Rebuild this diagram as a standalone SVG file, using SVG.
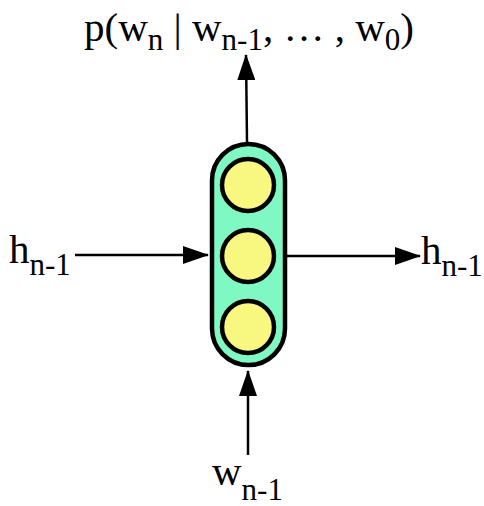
<svg xmlns="http://www.w3.org/2000/svg" width="484" height="506" viewBox="0 0 484 506">
<style>
.t{font-family:"Liberation Serif","Times New Roman",serif;font-size:41px;fill:#000}
.s{font-size:31px}
.c{stroke:#000;stroke-width:2.5;fill:none}
.cell{fill:#80f8c4;stroke:#000;stroke-width:4.5}
.u{fill:#f8f880;stroke:#000;stroke-width:4.5}
</style>
<defs>
<marker id="ah" markerWidth="26" markerHeight="18" refX="25" refY="9" orient="auto" markerUnits="userSpaceOnUse">
<path d="M0,0 L26,9 L0,18 Z" fill="#000"/>
</marker>
</defs>
<g id="connectors">
<line class="c" x1="75" y1="255" x2="208" y2="255" marker-end="url(#ah)"/>
<line class="c" x1="287" y1="256" x2="420" y2="256" marker-end="url(#ah)"/>
<line class="c" x1="247" y1="142" x2="246" y2="55" marker-end="url(#ah)"/>
<line class="c" x1="248" y1="455" x2="248" y2="371" marker-end="url(#ah)"/>
</g>
<g id="cell">
<rect class="cell" x="212" y="144" width="73" height="221" rx="36.5"/>
<circle class="u" cx="248" cy="185" r="26"/>
<circle class="u" cx="248" cy="256" r="26"/>
<circle class="u" cx="248" cy="327" r="26"/>
</g>
<g id="label-top">
<text class="t" x="84" y="41">p(w<tspan class="s" dy="9">n</tspan><tspan dy="-9"> | w</tspan><tspan class="s" dy="9">n-1</tspan><tspan dy="-9">, … , w</tspan><tspan class="s" dy="9">0</tspan><tspan dy="-9">)</tspan></text>
</g>
<g id="label-left">
<text class="t" x="9" y="263">h<tspan class="s" dy="12">n-1</tspan></text>
</g>
<g id="label-right">
<text class="t" x="421" y="264">h<tspan class="s" dy="12">n-1</tspan></text>
</g>
<g id="label-bottom">
<text class="t" x="212" y="485">w<tspan class="s" dy="15">n-1</tspan></text>
</g>
</svg>
